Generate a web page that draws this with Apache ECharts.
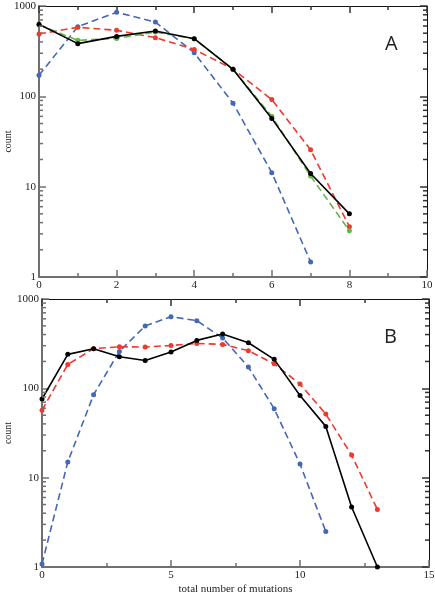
<!DOCTYPE html>
<html><head><meta charset="utf-8">
<script src="https://cdn.jsdelivr.net/npm/echarts@6/dist/echarts.min.js"></script>
<style>html,body{margin:0;padding:0;background:#fff}#c{width:435px;height:600px}</style>
</head><body><div id="c"></div>
<script>
// Panel A data (x = 0..8)
const xA = [0,1,2,3,4,5,6,7,8];
const aBlack = [627,383,461,528,434,199,57,14,5.0];
const aGreen = [617,417,438,515,434,200,60,13.1,3.25];
const aRed   = [490,581,538,446,331,200,92,25.6,3.6];
const xABlue = [0,1,2,3,4,5,6,7];
const aBlue  = [171,590,851,665,304,84,14.3,1.47];
// Panel B data (x = 0..13)
const xB = [0,1,2,3,4,5,6,7,8,9,10,11,12,13];
const bBlack = [76,240,278,226,205,255,344,405,324,211,83,37.5,4.7,1];
const bRed   = [57,185,278,292,290,302,318,310,264,188,112,51.5,17.9,4.4];
const xBBlue = [0,1,2,3,4,5,6,7,8,9,10,11];
const bBlue  = [1.08,15,85,259,499,634,572,366,173,59,14.2,2.5];
// axis settings
const yTicks = [1,10,100,1000];
const minorVals = [2,3,4,5,6,7,8,9,20,30,40,50,60,70,80,90,200,300,400,500,600,700,800,900];
const xRangeA = [0,10], xStepA = 2;
const xRangeB = [0,15], xStepB = 5;
const yTitle = 'count';
const xTitle = 'total number of mutations';
const panelLabels = ['A','B'];

const C = {black:'#000000', red:'#ee3a2c', green:'#68b545', blue:'#4467b8'};
const serif = 'Liberation Serif';
const gray = '#707070';

function zip(xs, ys){ return xs.map((x,i)=>[x, ys[i]]); }

const grids = [
  {left:39, top:6, width:388, height:271, containLabel:false, outerBoundsMode:'none'},
  {left:42, top:299, width:387, height:268, containLabel:false, outerBoundsMode:'none'}
];
const xRanges = [xRangeA, xRangeB], xSteps = [xStepA, xStepB];
const nameGaps = [26, 29];

const xAxis = [], yAxis = [];
[0,1].forEach(g=>{
  xAxis.push({type:'value', gridIndex:g, position:'bottom', min:xRanges[g][0], max:xRanges[g][1], interval:xSteps[g],
    axisLine:{show:true, onZero:false, lineStyle:{color:gray, width:2}},
    axisTick:{show:true, inside:true, length:7, lineStyle:{color:gray, width:1.5}},
    minorTick:{show:true, splitNumber:2, length:4, lineStyle:{color:gray, width:1.5}},
    splitLine:{show:false}, minorSplitLine:{show:false},
    axisLabel:{fontFamily:serif, fontSize:11, color:'#222', margin:3},
    name: g===1 ? xTitle : '', nameLocation:'middle', nameGap:17, nameMoveOverlap:false,
    nameTextStyle:{fontFamily:serif, fontSize:11, color:'#222'}
  });
  xAxis.push({type:'value', gridIndex:g, position:'top', min:xRanges[g][0], max:xRanges[g][1], interval:xSteps[g],
    axisLine:{show:true, onZero:false, lineStyle:{color:'#111', width:1}},
    axisTick:{show:true, inside:true, length:7, lineStyle:{color:'#333', width:1.5}},
    minorTick:{show:true, splitNumber:2, length:4, lineStyle:{color:'#333', width:1.5}},
    splitLine:{show:false}, axisLabel:{show:false}
  });
  yAxis.push({type:'log', logBase:10, gridIndex:g, position:'left', min:yTicks[0], max:yTicks[yTicks.length-1],
    axisLine:{show:true, onZero:false, lineStyle:{color:gray, width:2}},
    axisTick:{show:true, inside:true, length:7, lineStyle:{color:gray, width:1.5}},
    splitLine:{show:false},
    axisLabel:{fontFamily:serif, fontSize:11, color:'#222', margin:3, formatter:(v)=>String(Math.round(v))},
    name: yTitle, nameLocation:'middle', nameGap:nameGaps[g], nameRotate:90, nameMoveOverlap:false,
    nameTextStyle:{fontFamily:serif, fontSize:10, color:'#222'}
  });
  yAxis.push({type:'log', logBase:10, gridIndex:g, position:'right', min:yTicks[0], max:yTicks[yTicks.length-1],
    axisLine:{show:true, onZero:false, lineStyle:{color:'#111', width:1}},
    axisTick:{show:true, inside:true, length:7, lineStyle:{color:'#333', width:1.5}},
    splitLine:{show:false}, axisLabel:{show:false}
  });
});

function line(g, data, color, dashed, z){
  return {type:'line', xAxisIndex:g*2, yAxisIndex:g*2, data:data, symbol:'circle', symbolSize:5,
    z:z, clip:false,
    lineStyle:{color:color, width:1.6, type: dashed ? [7,4] : 'solid'},
    itemStyle:{color:color}
  };
}

const option = {
  animation:false,
  grid: grids,
  xAxis: xAxis,
  yAxis: yAxis,
  title: [
    {text:panelLabels[0], left:380, top:29, textStyle:{fontFamily:'Open Sans', fontWeight:'normal', fontSize:20, color:'#222'}},
    {text:panelLabels[1], left:379, top:322, textStyle:{fontFamily:'Open Sans', fontWeight:'normal', fontSize:20, color:'#222'}}
  ],
  series: [
    line(0, zip(xABlue, aBlue), C.blue, true, 2),
    line(0, zip(xA, aRed), C.red, true, 3),
    line(0, zip(xA, aGreen), C.green, true, 4),
    line(0, zip(xA, aBlack), C.black, false, 5),
    line(1, zip(xBBlue, bBlue), C.blue, true, 2),
    line(1, zip(xB, bRed), C.red, true, 3),
    line(1, zip(xB, bBlack), C.black, false, 5)
  ]
};
const chart = echarts.init(document.getElementById('c'), null, {renderer:'canvas'});
chart.setOption(option);

// log minor ticks on left and right axes, positioned through the chart's own scales
const elems = [];
[0,1].forEach(g=>{
  const xr = xRanges[g];
  minorVals.forEach(v=>{
    const pl = chart.convertToPixel({xAxisIndex:g*2, yAxisIndex:g*2}, [xr[0], v]);
    const pr = chart.convertToPixel({xAxisIndex:g*2, yAxisIndex:g*2}, [xr[1], v]);
    elems.push({type:'line', silent:true, z:10, shape:{x1:pl[0], y1:pl[1], x2:pl[0]+4, y2:pl[1]}, style:{stroke:gray, lineWidth:1.5}});
    elems.push({type:'line', silent:true, z:10, shape:{x1:pr[0], y1:pr[1], x2:pr[0]-4, y2:pr[1]}, style:{stroke:'#333', lineWidth:1.5}});
  });
});
chart.setOption({graphic: elems});
</script></body></html>
